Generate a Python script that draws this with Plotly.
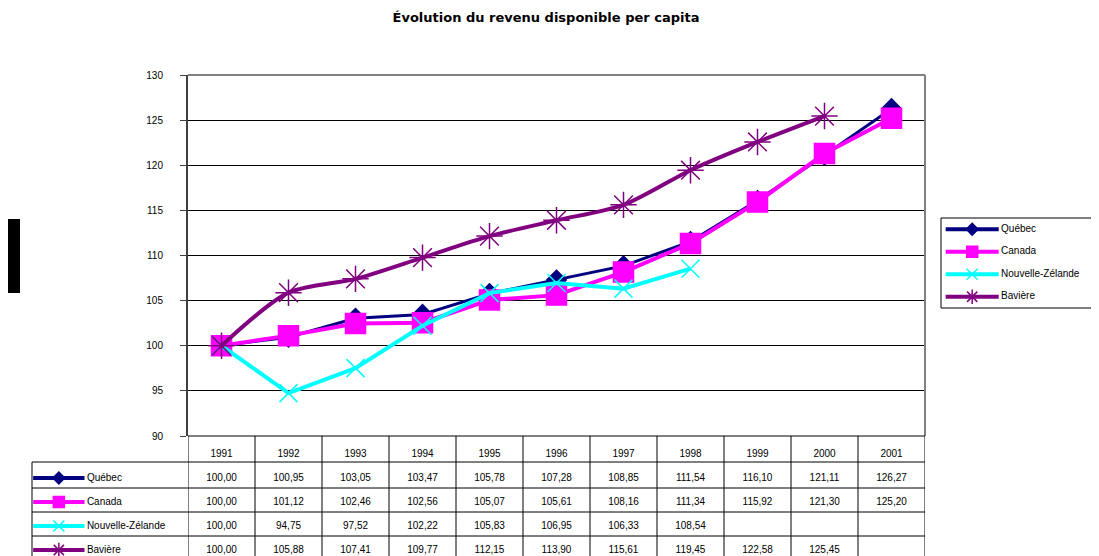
import plotly.graph_objects as go

W, H = 1099, 556
OFFSET = 8  # marge par defaut du body html

YEARS = ["1991", "1992", "1993", "1994", "1995", "1996", "1997", "1998", "1999", "2000", "2001"]
QUEBEC = [100.00, 100.95, 103.05, 103.47, 105.78, 107.28, 108.85, 111.54, 116.10, 121.11, 126.27]
CANADA = [100.00, 101.12, 102.46, 102.56, 105.07, 105.61, 108.16, 111.34, 115.92, 121.30, 125.20]
NOUVELLE_ZELANDE = [100.00, 94.75, 97.52, 102.22, 105.83, 106.95, 106.33, 108.54, None, None, None]
BAVIERE = [100.00, 105.88, 107.41, 109.77, 112.15, 113.90, 115.61, 119.45, 122.58, 125.45, None]

FONT = "Liberation Sans, Arial, sans-serif"

SERIES = [
    # name, values, color, symbol, chart size, legend size, line width, smooth
    ("Québec", QUEBEC, "#000080", "diamond", 15, 9, 3, False),
    ("Canada", CANADA, "#ff00ff", "square", 20, 11, 4, False),
    ("Nouvelle-Zélande", NOUVELLE_ZELANDE, "#00ffff", "x-thin-open", 18, 11, 4, False),
    ("Bavière", BAVIERE, "#800080", "asterisk-open", 22, 12, 4, True),
]
NAMES = [s[0] for s in SERIES]


def px_x(p):
    return (p - OFFSET) / W


def px_y(p):
    return 1 - (p - OFFSET) / H


def fmt(v):
    return "" if v is None else f"{v:.2f}".replace(".", ",")


def legend_sample(fig, name, color, symbol, lsize, xaxis, yaxis, x0, x1, xt):
    fig.add_trace(go.Scatter(
        x=[x0, x1], y=[name, name], mode="lines", line={"color": color, "width": 4},
        xaxis=xaxis, yaxis=yaxis, showlegend=False, hoverinfo="skip",
    ))
    fig.add_trace(go.Scatter(
        x=[(x0 + x1) / 2], y=[name], mode="markers",
        marker={"symbol": symbol, "size": lsize, "color": color,
                "line": {"color": color, "width": 1.5}},
        xaxis=xaxis, yaxis=yaxis, showlegend=False, hoverinfo="skip",
    ))
    fig.add_trace(go.Scatter(
        x=[xt], y=[name], text=[name], mode="text", textposition="middle right",
        textfont={"size": 10, "color": "black", "family": FONT},
        xaxis=xaxis, yaxis=yaxis, showlegend=False, hoverinfo="skip",
    ))


fig = go.Figure()

# courbes du graphique
for name, values, color, symbol, size, _, width, smooth in SERIES:
    fig.add_trace(go.Scatter(
        x=YEARS, y=values, name=name, mode="lines+markers",
        line={"color": color, "width": width,
              "shape": "spline" if smooth else "linear", "smoothing": 0.8},
        marker={"symbol": symbol, "size": size, "color": color,
                "line": {"color": color, "width": 1.5}},
        connectgaps=False, showlegend=False,
    ))

# tableau de donnees sous le graphique
ROWS = ["hdr"] + NAMES
fig.add_trace(go.Scatter(
    x=YEARS, y=["hdr"] * len(YEARS), text=YEARS, mode="text",
    textfont={"size": 10, "color": "black", "family": FONT},
    xaxis="x", yaxis="y2", showlegend=False, hoverinfo="skip",
))
for name, values, color, symbol, size, lsize, width, _ in SERIES:
    fig.add_trace(go.Scatter(
        x=YEARS, y=[name] * len(YEARS), text=[fmt(v) for v in values], mode="text",
        textfont={"size": 10, "color": "black", "family": FONT},
        xaxis="x", yaxis="y2", showlegend=False, hoverinfo="skip",
    ))
    legend_sample(fig, name, color, symbol, lsize, "x3", "y2", 0.02, 0.345, 0.36)
    # legende de droite
    legend_sample(fig, name, color, symbol, lsize, "x4", "y3", 0.03, 0.37, 0.385)

plot_x = [px_x(188), px_x(925)]
plot_y = [px_y(436), px_y(75)]

shapes = []
gray = "#808080"
# colonnes du tableau
for k in range(len(YEARS) + 1):
    shapes.append(dict(type="line", xref="x", yref="paper", x0=k - 0.5, x1=k - 0.5,
                       y0=0, y1=plot_y[0], line={"color": gray, "width": 2}))
# bord gauche de la colonne des libelles
shapes.append(dict(type="line", xref="paper", yref="paper", x0=px_x(32), x1=px_x(32),
                   y0=0, y1=px_y(462), line={"color": gray, "width": 2}))
# lignes du tableau
for yy in [462, 488, 512, 536]:
    shapes.append(dict(type="line", xref="paper", yref="paper", x0=px_x(32), x1=plot_x[1],
                       y0=px_y(yy), y1=px_y(yy), line={"color": "black", "width": 1}))
# cadre du graphique
shapes.append(dict(type="line", xref="paper", yref="paper", x0=plot_x[0], x1=plot_x[1],
                   y0=plot_y[1], y1=plot_y[1], line={"color": gray, "width": 2}))
shapes.append(dict(type="line", xref="paper", yref="paper", x0=plot_x[1], x1=plot_x[1],
                   y0=plot_y[0], y1=plot_y[1], line={"color": gray, "width": 2}))
shapes.append(dict(type="line", xref="paper", yref="paper", x0=plot_x[0], x1=plot_x[1],
                   y0=plot_y[0], y1=plot_y[0], line={"color": "black", "width": 1}))
# cadre de la legende
shapes.append(dict(type="rect", xref="paper", yref="paper", x0=px_x(941), x1=px_x(1097),
                   y0=px_y(308), y1=px_y(218), line={"color": "black", "width": 1},
                   layer="below"))
# rectangle noir a gauche
shapes.append(dict(type="rect", xref="paper", yref="paper", x0=px_x(8), x1=px_x(20),
                   y0=px_y(293), y1=px_y(219), fillcolor="black", line={"width": 0}))

hidden = {"visible": False, "automargin": False}

fig.update_layout(
    width=W,
    height=H,
    margin={"l": 0, "r": 0, "t": 0, "b": 0},
    paper_bgcolor="white",
    plot_bgcolor="white",
    font={"family": FONT, "size": 10, "color": "black"},
    title={
        "text": "<b>Évolution du revenu disponible per capita</b>",
        "x": px_x(546), "xanchor": "center", "y": px_y(17), "yanchor": "middle",
        "font": {"family": "DejaVu Sans, sans-serif", "size": 13, "color": "black"},
        "automargin": False,
    },
    xaxis={
        "type": "category", "domain": plot_x, "range": [-0.5, 10.5],
        "showticklabels": False, "showgrid": False, "zeroline": False,
        "ticks": "", "anchor": "y", "automargin": False,
    },
    yaxis={
        "domain": plot_y, "range": [90, 130], "dtick": 5, "anchor": "x",
        "showgrid": True, "gridcolor": "black", "gridwidth": 1,
        "ticks": "outside", "ticklen": 6, "tickcolor": "#404040",
        "ticklabelstandoff": 15,
        "showline": True, "linecolor": "#404040", "linewidth": 2,
        "zeroline": False, "tickfont": {"size": 10}, "automargin": False,
    },
    yaxis2={
        "type": "category", "categoryarray": ROWS, "categoryorder": "array",
        "domain": [px_y(556), plot_y[0]], "range": [4.25, -0.75], "anchor": "x",
        **hidden,
    },
    xaxis3={
        "domain": [px_x(30), px_x(188)], "range": [0, 1], "anchor": "y2",
        **hidden,
    },
    yaxis3={
        "type": "category", "categoryarray": NAMES, "categoryorder": "array",
        "domain": [px_y(308), px_y(218)], "range": [3.5, -0.5], "anchor": "x4",
        **hidden,
    },
    xaxis4={
        "domain": [px_x(941), px_x(1097)], "range": [0, 1], "anchor": "y3",
        **hidden,
    },
    shapes=shapes,
    showlegend=False,
)

fig.write_html("out.html")
